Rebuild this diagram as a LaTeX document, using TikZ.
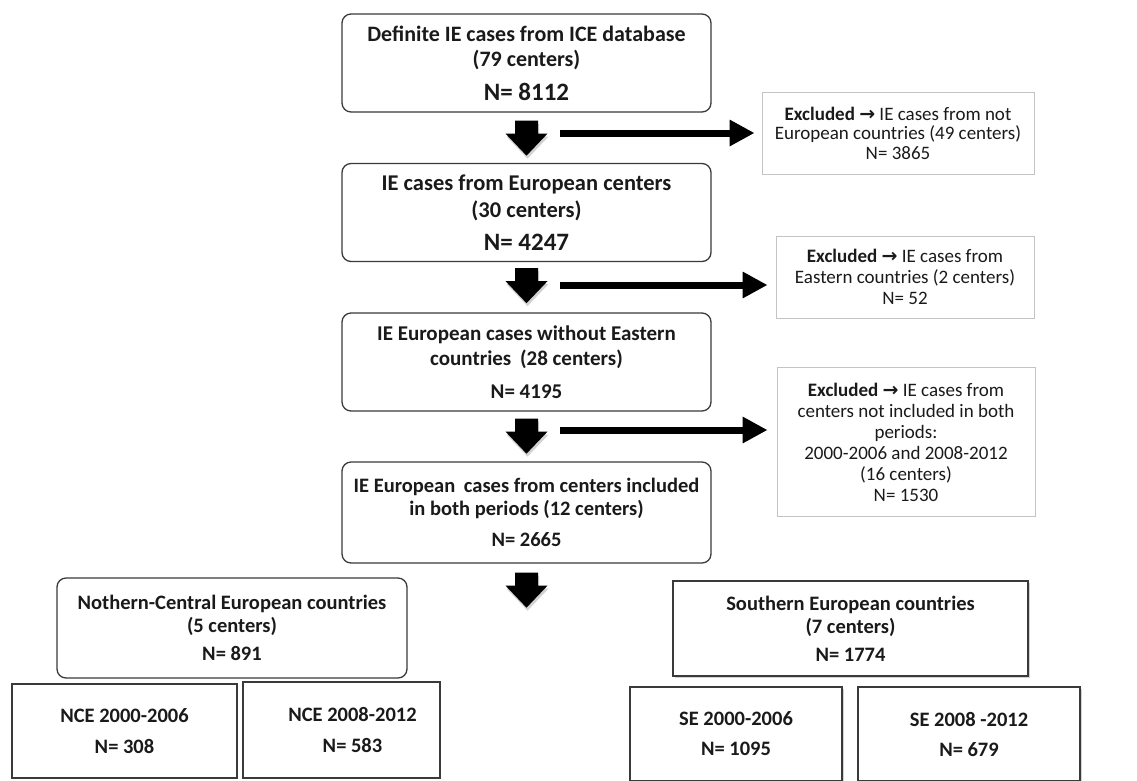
\documentclass[tikz,border=0pt]{standalone}
\usepackage{fontspec}
\setmainfont{Carlito}
\newfontfamily\dejavu{DejaVu Sans}
\usetikzlibrary{arrows.meta,calc,shadows}
\definecolor{boxgray}{HTML}{3A3A3A}
\definecolor{lightgray}{HTML}{C4C4C4}
\definecolor{txt}{HTML}{1A1A1A}
\newcommand{\exarrow}{{\dejavu\bfseries\fontsize{19}{20}\selectfont →}}
\newcommand{\bigN}[1]{{\fontsize{25}{25}\selectfont #1}}
\begin{document}
\begin{tikzpicture}[x=1pt,y=-1pt,
  mainbox/.style={draw=boxgray, line width=1.3pt, rounded corners=9pt,
    minimum width=369pt, minimum height=98pt, align=center, inner sep=0pt,
    text=txt, font=\fontsize{21}{25}\selectfont\bfseries},
  exbox/.style={draw=lightgray, line width=0.9pt, minimum width=258pt,
    minimum height=82pt, align=center, inner sep=0pt, text=txt,
    font=\fontsize{19}{21}\selectfont},
  regbox/.style={draw=boxgray, line width=1.3pt, align=center, inner sep=0pt,
    text=txt, font=\fontsize{20.5}{23}\selectfont\bfseries},
  subbox/.style={draw=boxgray, line width=1.3pt, align=center, inner sep=0pt,
    text=txt, font=\fontsize{20.5}{25}\selectfont\bfseries},
  shadowed/.style={drop shadow={shadow xshift=2pt, shadow yshift=-2pt, opacity=0.35}},
  sidearrow/.style={line width=7pt, -{Triangle[length=25pt 0 0, width=25pt 0 0]}},
  downarr/.pic={
    \fill[black!35, opacity=0.5] (-10.5,3) -- (12.5,3) -- (12.5,16) -- (22,16) -- (1,38) -- (-20,16) -- (-10.5,16) -- cycle;
    \fill[black] (-11.5,0) -- (11.5,0) -- (11.5,13) -- (21,13) -- (0,35) -- (-21,13) -- (-11.5,13) -- cycle;
  }]
\useasboundingbox (0,0) rectangle (1137,780);
\fill[white] (0,0) rectangle (1137,780);

% main column
\node[mainbox, font=\fontsize{22}{25}\selectfont\bfseries] (b1) at (526.5,63) {Definite IE cases from ICE database\\(79 centers)\\[9pt]\bigN{N= 8112}};
\node[mainbox, font=\fontsize{22.5}{27}\selectfont\bfseries] (b2) at (526.5,212.5) {IE cases from European centers\\(30 centers)\\[6pt]\bigN{N= 4247}};
\node[mainbox] (b3) at (526.5,362) {IE European cases without Eastern\\countries\hspace{4pt} (28 centers)\\[8pt]N= 4195};
\node[mainbox, minimum height=101pt, font=\fontsize{20.5}{23}\selectfont\bfseries] (b4) at (526.5,512.5) {IE European\hspace{4pt} cases from centers included\\in both periods (12 centers)\\[8pt]N= 2665};

% excluded boxes
\node[exbox, minimum width=272pt, font=\fontsize{19}{19.5}\selectfont] (e1) at (898,133) {\textbf{Excluded} \exarrow{} IE cases from not\\European countries (49 centers)\\N= 3865};
\node[exbox] (e2) at (905,277) {\textbf{Excluded} \exarrow{} IE cases from\\Eastern countries (2 centers)\\N= 52};
\node[exbox, minimum height=149pt] (e3) at (906,442) {\textbf{Excluded} \exarrow{} IE cases from\\centers not included in both\\periods:\\2000-2006 and 2008-2012\\(16 centers)\\N= 1530};

% down block arrows
\pic at ($(b1.south)+(0,8)$) {downarr};
\pic at ($(b2.south)+(0,6)$) {downarr};
\pic at ($(b3.south)+(0,7)$) {downarr};
\pic at ($(b4.south)+(0,9)$) {downarr};

% side arrows
\coordinate (s1) at (560,133);
\coordinate (s2) at (560,285);
\coordinate (s3) at (560,430);
\draw[sidearrow, shorten >=7pt] (s1) -- (s1 -| e1.west);
\draw[sidearrow, shorten >=8pt] (s2) -- (s2 -| e2.west);
\draw[sidearrow, shorten >=9pt] (s3) -- (s3 -| e3.west);

% regional boxes
\node[regbox, rounded corners=9pt, minimum width=350pt, minimum height=100pt] (nce) at (232,628) {Nothern-Central European countries\\(5 centers)\\[5pt]N= 891};
\node[regbox, shadowed, fill=white, minimum width=355pt, minimum height=95pt] (se) at (850.5,628.5) {Southern European countries\\(7 centers)\\[5pt]N= 1774};

% period boxes
\node[subbox, minimum width=225pt, minimum height=94pt] (nce1) at (124.5,731) {NCE 2000-2006\\[6pt]N= 308};
\node[subbox, minimum width=197pt, minimum height=96pt] (nce2) at (341.5,730) {\hspace*{22pt}NCE 2008-2012\\[6pt]\hspace*{22pt}N= 583};
\node[subbox, shadowed, fill=white, minimum width=212pt, minimum height=94pt] (se1) at (736,734) {SE 2000-2006\\[5pt]N= 1095};
\node[subbox, shadowed, fill=white, minimum width=222pt, minimum height=94pt] (se2) at (969,734) {SE 2008 -2012\\[5pt]N= 679};
\end{tikzpicture}
\end{document}
